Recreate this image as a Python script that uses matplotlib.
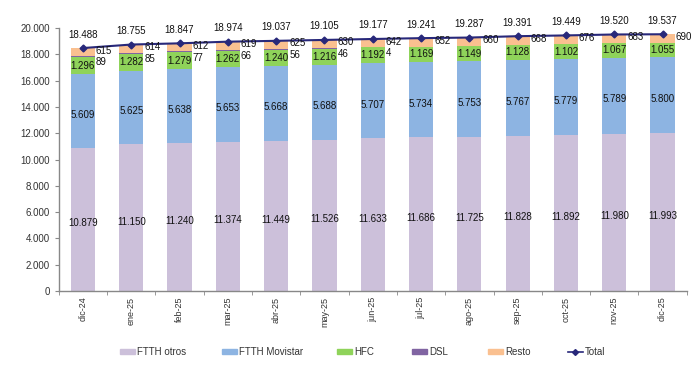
import matplotlib
matplotlib.use("Agg")
import matplotlib.pyplot as plt
from matplotlib.ticker import FuncFormatter, FixedLocator
from matplotlib.patches import Patch
from matplotlib.lines import Line2D
import numpy as np

plt.rcParams['font.family'] = ['Liberation Sans', 'DejaVu Sans']

categories = ["dic-24", "ene-25", "feb-25", "mar-25", "abr-25", "may-25", "jun-25",
              "jul-25", "ago-25", "sep-25", "oct-25", "nov-25", "dic-25"]
ftth_otros = [10879, 11150, 11240, 11374, 11449, 11526, 11633, 11686, 11725, 11828, 11892, 11980, 11993]
ftth_movistar = [5609, 5625, 5638, 5653, 5668, 5688, 5707, 5734, 5753, 5767, 5779, 5789, 5800]
hfc = [1296, 1282, 1279, 1262, 1240, 1216, 1192, 1169, 1149, 1128, 1102, 1067, 1055]
dsl = [89, 85, 77, 66, 56, 46, 4, 0, 0, 0, 0, 0, 0]
resto = [615, 614, 612, 619, 625, 630, 642, 652, 660, 668, 676, 683, 690]
total = [18488, 18755, 18847, 18974, 19037, 19105, 19177, 19241, 19287, 19391, 19449, 19520, 19537]

c_otros = "#CCC0DA"
c_mov = "#8DB4E2"
c_hfc = "#8FD35A"
c_dsl = "#8064A2"
c_resto = "#FAC090"
c_total = "#28287A"

def fmt(v):
    return f"{int(v):,}".replace(",", ".")

fig = plt.figure(figsize=(7.0, 3.86), dpi=100)
ax = fig.add_axes([0.084, 0.246, 0.897, 0.681])

x = np.arange(len(categories))
w = 0.5
b0 = np.zeros(len(x))
series = [(ftth_otros, c_otros), (ftth_movistar, c_mov), (hfc, c_hfc), (dsl, c_dsl), (resto, c_resto)]
bottoms = []
for vals, col in series:
    v = np.array(vals, dtype=float)
    bottoms.append(b0.copy())
    ax.bar(x, v, w, bottom=b0, color=col, edgecolor='none', zorder=2)
    b0 = b0 + v

ax.plot(x, total, color=c_total, lw=1.5, marker='D', ms=3.5, zorder=4)

fs = 7
kw = dict(fontsize=fs, zorder=5, color='#111111')
for i in range(len(x)):
    ax.text(x[i], bottoms[0][i] + ftth_otros[i] / 2 - 300, fmt(ftth_otros[i]), ha='center', va='center', **kw)
    ax.text(x[i], bottoms[1][i] + ftth_movistar[i] / 2 - 300, fmt(ftth_movistar[i]), ha='center', va='center', **kw)
    ax.text(x[i], bottoms[2][i] + hfc[i] / 2, fmt(hfc[i]), ha='center', va='center', **kw)
    ry = bottoms[4][i] + resto[i] / 2 + 120
    ax.text(x[i] + w / 2 + 0.02, ry, fmt(resto[i]), ha='left', va='center', **kw)
    if dsl[i] > 0:
        ax.text(x[i] + w / 2 + 0.02, ry - 900, fmt(dsl[i]), ha='left', va='center', **kw)
    ax.text(x[i], total[i] + 650, fmt(total[i]), ha='center', va='bottom', **kw)

ax.set_xlim(-0.5, len(x) - 0.5)
ax.set_ylim(0, 20000)
ax.set_yticks(np.arange(0, 20001, 2000))
ax.yaxis.set_major_formatter(FuncFormatter(lambda v, p: fmt(v)))
ax.set_xticks(x)
ax.set_xticklabels(categories, rotation=90, fontsize=6.5, color='#333333')
ax.tick_params(axis='x', which='major', length=0, pad=4)
ax.xaxis.set_minor_locator(FixedLocator(np.arange(-0.5, len(x), 1.0)))
ax.tick_params(axis='x', which='minor', length=3, color='#888888')
ax.tick_params(axis='y', labelsize=7, length=3, color='#888888', labelcolor='#333333')
for s in ['top', 'right']:
    ax.spines[s].set_visible(False)
for s in ['left', 'bottom']:
    ax.spines[s].set_color('#888888')
    ax.spines[s].set_linewidth(1.0)

handles = [Patch(color=c_otros, label='FTTH otros'),
           Patch(color=c_mov, label='FTTH Movistar'),
           Patch(color=c_hfc, label='HFC'),
           Patch(color=c_dsl, label='DSL'),
           Patch(color=c_resto, label='Resto'),
           Line2D([0], [0], color=c_total, lw=1.2, marker='D', ms=3, label='Total')]
leg_x_px = [120, 222, 337, 412, 488, 568]
for h, px in zip(handles, leg_x_px):
    lg = fig.legend(handles=[h], loc='center left', bbox_to_anchor=(px / 700, 1 - 352 / 386),
                    frameon=False, fontsize=7, handlelength=1.5, handleheight=0.45,
                    handletextpad=0.25, borderpad=0, borderaxespad=0, labelcolor='#333333')

fig.savefig("out.png", dpi=100)
